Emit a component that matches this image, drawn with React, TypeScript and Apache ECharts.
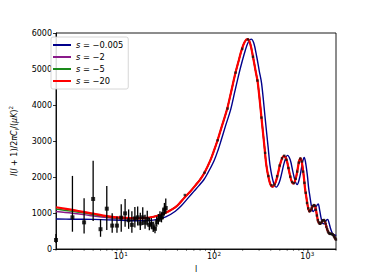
import React, { useEffect, useRef } from 'react';
import * as echarts from 'echarts';

// s = -20 (red) model curve
const redL = [2, 3, 4, 5, 7, 10, 15, 20, 25, 30, 35, 40, 48, 55, 62, 70, 78, 90, 100, 107, 120, 136, 150, 167, 180, 195, 210, 225, 240, 258, 275, 291, 320, 342, 360, 390, 417, 450, 480, 510, 551, 590, 630, 665, 700, 740, 780, 810, 834, 860, 900, 930, 961, 1000, 1042, 1080, 1120, 1175, 1220, 1260, 1291, 1340, 1400, 1450, 1490, 1540, 1600, 1680, 1740, 1800, 1870, 1950, 2000];
const redV = [1160, 1085, 1025, 985, 915, 870, 852, 875, 930, 1010, 1100, 1210, 1440, 1600, 1760, 1930, 2120, 2460, 2780, 3000, 3420, 3880, 4350, 4880, 5200, 5530, 5750, 5830, 5720, 5340, 4950, 4600, 3580, 2850, 2300, 1850, 1730, 1850, 2120, 2400, 2580, 2480, 2150, 1900, 1820, 1950, 2250, 2470, 2520, 2420, 2050, 1700, 1450, 1170, 1040, 1090, 1180, 1220, 1080, 880, 760, 700, 740, 800, 805, 720, 560, 440, 420, 420, 390, 300, 250];

// s = -0.005 (blue) model curve
const blueL = [2, 3, 5, 7, 10, 15, 20, 25, 30, 38, 44, 53, 60, 68, 77, 85, 99, 110, 117, 131, 149, 164, 183, 197, 214, 230, 246, 263, 283, 301, 319, 350, 374, 394, 427, 457, 493, 526, 558, 603, 646, 690, 728, 767, 810, 854, 887, 913, 942, 986, 1018, 1052, 1095, 1141, 1183, 1226, 1287, 1336, 1380, 1414, 1467, 1533, 1588, 1632, 1686, 1752, 1840, 1905, 1971, 2000];
const blueV = [835, 828, 822, 810, 800, 785, 790, 830, 890, 1050, 1200, 1440, 1600, 1760, 1930, 2120, 2460, 2780, 3000, 3420, 3880, 4350, 4880, 5200, 5530, 5750, 5830, 5720, 5340, 4950, 4600, 3580, 2850, 2300, 1850, 1720, 1850, 2120, 2400, 2600, 2480, 2150, 1900, 1790, 1950, 2250, 2470, 2540, 2420, 2050, 1700, 1450, 1170, 1040, 1090, 1180, 1250, 1080, 880, 760, 700, 740, 810, 820, 720, 560, 420, 400, 385, 370];

// s = -2 (purple) and s = -5 (green): low-l part; above l = 20 they follow the red curve
const lowL = [2, 3, 4, 5, 7, 10, 15, 20];
const purpleLowV = [1040, 995, 955, 920, 875, 840, 845, 870];
const greenLowV = [1110, 1045, 1000, 955, 895, 855, 849, 872];

// low-l data points with error bars
const obsL = [2, 3, 4, 5, 6, 7, 8, 9, 10, 11, 12, 13, 14, 15, 16, 17, 18, 19, 20, 21, 22, 23, 24, 25, 26, 27, 28, 29, 30];
const obsV = [250, 880, 740, 1390, 550, 1120, 650, 650, 870, 990, 800, 670, 850, 880, 710, 880, 730, 830, 670, 700, 600, 560, 750, 820, 900, 870, 980, 1100, 1140];
const obsLo = [170, 480, 430, 780, 340, 530, 450, 450, 480, 620, 560, 450, 600, 650, 530, 670, 560, 650, 520, 560, 470, 440, 620, 680, 760, 740, 830, 950, 980];
const obsHi = [420, 2030, 1410, 2450, 830, 1750, 990, 900, 1240, 1390, 1100, 1050, 1170, 1180, 1010, 1160, 950, 1060, 870, 860, 760, 700, 900, 970, 1050, 1010, 1130, 1280, 1400];

// binned high-l data points
const binL = [48, 78, 108, 138, 168, 198, 228, 258, 288, 318, 348, 378, 408, 438, 468, 498, 528, 558, 588, 618, 648, 678, 708, 738, 768, 798, 828, 858, 888, 918, 948, 978, 1008, 1038, 1068, 1098, 1128, 1158, 1188, 1218, 1248, 1278, 1308, 1338, 1368, 1398, 1428, 1458, 1488, 1518, 1548, 1578, 1608, 1638, 1668, 1698, 1728, 1758, 1788, 1818, 1848, 1878, 1908, 1938, 1968, 1998];
const binV = [1500, 2120, 3020, 3900, 4900, 5560, 5820, 5340, 4680, 3650, 2670, 2030, 1770, 1790, 2020, 2320, 2520, 2590, 2480, 2250, 2010, 1860, 1830, 1950, 2150, 2400, 2510, 2430, 2150, 1840, 1560, 1280, 1130, 1050, 1070, 1130, 1190, 1220, 1200, 1090, 930, 800, 740, 700, 710, 740, 780, 800, 805, 770, 700, 620, 550, 490, 450, 430, 420, 420, 420, 410, 400, 380, 350, 320, 290, 260];

const yTicks = [0, 1000, 2000, 3000, 4000, 5000, 6000];
const xMajor = [10, 100, 1000];
const xMajorExp = ['1', '2', '3'];
const xMinor = [2, 3, 4, 5, 6, 7, 8, 9, 20, 30, 40, 50, 60, 70, 80, 90, 200, 300, 400, 500, 600, 700, 800, 900, 2000];

const names = ['s = −0.005', 's = −2', 's = −5', 's = −20'];
const colors = ['#00008b', '#8a1a8a', '#1a8a1a', '#ff0000'];

const FONT = 'DejaVu Sans';

export default function App() {
  const ref = useRef<HTMLDivElement>(null);
  useEffect(() => {
    if (!ref.current) return;
    const chart = echarts.init(ref.current, undefined, { renderer: 'svg' });
    const zip = (ls: number[], vs: number[]) => ls.map((l, i) => [l, vs[i]]);
    const redTail = zip(redL, redV).filter((d) => d[0] > 20);
    const purple = zip(lowL, purpleLowV).concat(redTail);
    const green = zip(lowL, greenLowV).concat(redTail);
    const lineSeries = (name: string, data: number[][], color: string, width: number) => ({
      type: 'line',
      name,
      data,
      symbol: 'none',
      smooth: 0.35,
      lineStyle: { color, width },
      itemStyle: { color },
      z: 2,
    });
    const option: any = {
      animation: false,
      textStyle: { fontFamily: FONT },
      grid: {
        left: 46,
        top: 33,
        right: 38,
        bottom: 31,
        show: true,
        borderColor: '#000',
        borderWidth: 0.9,
        backgroundColor: 'transparent',
      },
      legend: {
        show: true,
        data: names,
        orient: 'vertical',
        left: 51,
        top: 37,
        padding: [3, 5, 3, 2],
        itemGap: 2,
        itemWidth: 18,
        itemHeight: 2,
        itemTextGap: 5,
        icon: 'rect',
        backgroundColor: 'rgba(255,255,255,0.85)',
        borderColor: '#cccccc',
        borderWidth: 0.8,
        borderRadius: 2,
        formatter: (n: string) => '{i|s}{n|' + n.slice(1) + '}',
        textStyle: {
          fontSize: 8,
          color: '#000',
          lineHeight: 10,
          rich: {
            i: { fontStyle: 'italic', fontSize: 8.3, fontFamily: FONT, color: '#000', lineHeight: 10 },
            n: { fontSize: 8.3, fontFamily: FONT, color: '#000', lineHeight: 10 },
          },
        },
      },
      xAxis: {
        type: 'log',
        logBase: 10,
        min: 2,
        max: 2000,
        axisLine: { show: true, lineStyle: { color: '#000', width: 0.9 } },
        axisTick: { show: false },
        axisLabel: { show: false },
        splitLine: { show: false },
        minorTick: { show: false },
        name: 'l',
        nameLocation: 'middle',
        nameGap: 16,
        nameTextStyle: { fontSize: 8, color: '#000', fontFamily: FONT },
      },
      yAxis: {
        type: 'value',
        min: 0,
        max: 6000,
        interval: 1000,
        axisLine: { show: true, lineStyle: { color: '#000', width: 0.9 } },
        axisTick: { show: true, length: 3, lineStyle: { color: '#000', width: 0.8 } },
        axisLabel: {
          fontSize: 8,
          color: '#000',
          margin: 4,
          fontFamily: FONT,
          formatter: (v: number) => (yTicks.indexOf(v) >= 0 ? String(v) : ''),
        },
        splitLine: { show: false },
        name: '{i|l}{n|(}{i|l}{n| + 1)/2}{i|πC}{sub|l}{n|/(}{i|μK}{n|)}{sup|2}',
        nameLocation: 'middle',
        nameRotate: 90,
        nameGap: 36,
        nameTextStyle: {
          fontSize: 8,
          color: '#000',
          fontFamily: FONT,
          rich: {
            i: { fontStyle: 'italic', fontSize: 8, fontFamily: FONT, color: '#000', lineHeight: 12 },
            n: { fontSize: 8, fontFamily: FONT, color: '#000', lineHeight: 12 },
            sub: { fontStyle: 'italic', fontSize: 5.6, fontFamily: FONT, color: '#000', lineHeight: 12, verticalAlign: 'bottom' },
            sup: { fontSize: 5.6, fontFamily: FONT, color: '#000', lineHeight: 12, verticalAlign: 'top' },
          },
        },
      },
      series: [
        lineSeries(names[0], zip(blueL, blueV), colors[0], 1.4),
        lineSeries(names[1], purple, colors[1], 1.4),
        lineSeries(names[2], green, colors[2], 1.4),
        lineSeries(names[3], zip(redL, redV), colors[3], 2.2),
        {
          type: 'custom',
          name: 'errors',
          silent: true,
          z: 3,
          clip: false,
          data: obsL.map((l, i) => [l, obsLo[i], obsHi[i]]),
          encode: { x: 0, y: [1, 2] },
          renderItem: (params: any, api: any) => {
            const l = api.value(0);
            const a = api.coord([l, api.value(1)]);
            const b = api.coord([l, api.value(2)]);
            return {
              type: 'line',
              shape: { x1: a[0], y1: a[1], x2: b[0], y2: b[1] },
              style: { stroke: '#000', lineWidth: 1.3 },
            };
          },
        },
        {
          type: 'scatter',
          name: 'obs',
          silent: true,
          z: 4,
          symbol: 'rect',
          symbolSize: 4,
          itemStyle: { color: '#000' },
          data: obsL.map((l, i) => [l, obsV[i]]),
        },
        {
          type: 'scatter',
          name: 'bins',
          silent: true,
          z: 4,
          symbol: 'rect',
          symbolSize: 2.4,
          itemStyle: { color: '#111' },
          data: binL.map((l, i) => [l, binV[i]]),
        },
        {
          type: 'custom',
          name: 'minorTicks',
          silent: true,
          clip: false,
          z: 5,
          data: xMinor.map((l) => [l, 0]),
          encode: { x: 0, y: 1 },
          renderItem: (params: any, api: any) => {
            const p = api.coord([api.value(0), 0]);
            return {
              type: 'line',
              shape: { x1: p[0], y1: p[1], x2: p[0], y2: p[1] + 1.8 },
              style: { stroke: '#000', lineWidth: 0.6 },
            };
          },
        },
        {
          type: 'custom',
          name: 'majorTicks',
          silent: true,
          clip: false,
          z: 5,
          data: xMajor.map((l, i) => [l, 0, i]),
          encode: { x: 0, y: 1 },
          renderItem: (params: any, api: any) => {
            const p = api.coord([api.value(0), 0]);
            const exp = xMajorExp[api.value(2)];
            return {
              type: 'group',
              children: [
                {
                  type: 'line',
                  shape: { x1: p[0], y1: p[1], x2: p[0], y2: p[1] + 3 },
                  style: { stroke: '#000', lineWidth: 0.8 },
                },
                {
                  type: 'text',
                  x: p[0] + 2.6,
                  y: p[1] + 3.6,
                  style: { text: '10', fontSize: 8, fontFamily: FONT, fill: '#000', align: 'right', verticalAlign: 'top' },
                },
                {
                  type: 'text',
                  x: p[0] + 2.9,
                  y: p[1] + 1.8,
                  style: { text: exp, fontSize: 5.6, fontFamily: FONT, fill: '#000', align: 'left', verticalAlign: 'top' },
                },
              ],
            };
          },
        },
      ],
    };
    chart.setOption(option);
    return () => chart.dispose();
  }, []);
  return <div ref={ref} style={{ position: 'fixed', left: 0, top: 0, width: 374, height: 280, background: '#fff' }} />;
}
